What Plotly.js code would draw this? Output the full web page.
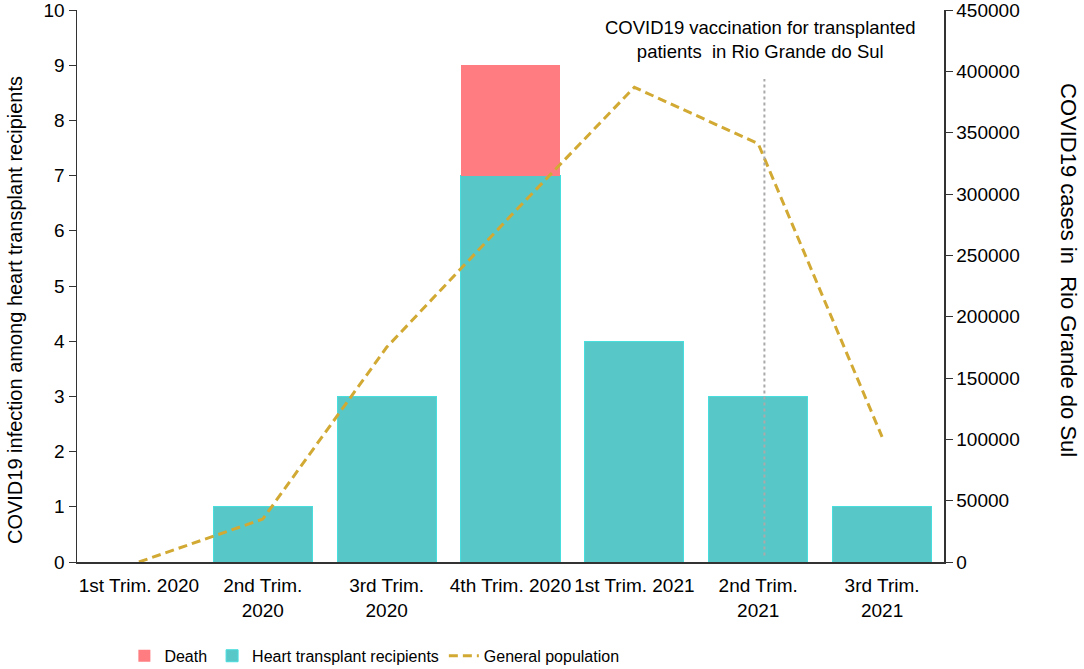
<!DOCTYPE html>
<html>
<head>
<meta charset="utf-8">
<script src="https://cdn.plot.ly/plotly-3.0.1.min.js"></script>
<style>
  body { margin: 0; background: #fff; }
  #gd { width: 1084px; height: 669px; }
</style>
</head>
<body>
<div id="gd"></div>
<script>
// quarters on the x axis
const quarters = ['1st Trim. 2020', '2nd Trim.<br>2020', '3rd Trim.<br>2020', '4th Trim. 2020',
                  '1st Trim. 2021', '2nd Trim.<br>2021', '3rd Trim.<br>2021'];
// heart transplant recipients with COVID19 (left axis)
const heartCases = [0, 1, 3, 7, 4, 3, 1];
const deaths = [0, 0, 0, 2, 0, 0, 0];
// COVID19 cases in the general population of Rio Grande do Sul (right axis)
const generalPop = [0, 35000, 175000, 282000, 387000, 341000, 102000];

const fontFam = '"Liberation Sans", Arial, sans-serif';

const data = [{
  x: quarters,
  y: heartCases,
  type: 'bar',
  name: 'Heart transplant recipients',
  legendrank: 2,
  marker: { color: '#58c7c8', line: { color: '#48dede', width: 1 } },
  hoverinfo: 'skip'
}, {
  x: quarters,
  y: deaths,
  type: 'bar',
  name: 'Death',
  legendrank: 1,
  marker: { color: '#ff7d80', line: { width: 0 } },
  hoverinfo: 'skip'
}, {
  x: quarters,
  y: generalPop,
  type: 'scatter',
  mode: 'lines',
  name: 'General population',
  legendrank: 3,
  yaxis: 'y2',
  line: { color: '#d1a933', width: 3, dash: '9px,5px' },
  hoverinfo: 'skip'
}];

const layout = {
  width: 1084,
  height: 669,
  margin: { l: 77, r: 140, t: 10, b: 107, autoexpand: false },
  paper_bgcolor: '#fff',
  plot_bgcolor: '#fff',
  font: { family: fontFam, size: 19, color: '#000' },
  barmode: 'stack',
  bargap: 0.2,
  showlegend: true,
  legend: {
    orientation: 'h',
    x: 0.343, xanchor: 'center',
    y: -0.170, yanchor: 'middle',
    font: { size: 16 },
    traceorder: 'normal'
  },
  xaxis: {
    type: 'category',
    range: [-0.5, 6.5],
    tickangle: 0,
    ticks: '',
    ticklabelstandoff: 6,
    showline: true,
    linecolor: '#333',
    linewidth: 1.5,
    showgrid: false,
    zeroline: false
  },
  yaxis: {
    range: [0, 10],
    dtick: 1,
    ticks: 'outside',
    ticklen: 7,
    tickcolor: '#333',
    ticklabeloverflow: 'allow',
    showline: true,
    linecolor: '#333',
    linewidth: 1.5,
    showgrid: false,
    zeroline: false
  },
  yaxis2: {
    overlaying: 'y',
    side: 'right',
    range: [0, 450000],
    dtick: 50000,
    tickformat: 'd',
    ticks: 'outside',
    ticklen: 7,
    tickcolor: '#333',
    ticklabeloverflow: 'allow',
    showline: true,
    linecolor: '#333',
    linewidth: 1.5,
    showgrid: false,
    zeroline: false
  },
  shapes: [{
    type: 'line',
    xref: 'x', yref: 'y',
    x0: 5.05, x1: 5.05, y0: 0.12, y1: 8.75,
    line: { color: '#aaaaaa', width: 2, dash: 'dot' },
    layer: 'above'
  }],
  annotations: [{
    xref: 'x', yref: 'paper',
    x: 5.016, y: 0.9457,
    xanchor: 'center', yanchor: 'middle',
    text: 'COVID19 vaccination for transplanted<br>patients  in Rio Grande do Sul',
    showarrow: false,
    align: 'center',
    font: { size: 18.5, color: '#000' }
  }, {
    // left axis title
    xref: 'paper', yref: 'paper',
    x: -0.0715, y: 0.4565,
    xanchor: 'center', yanchor: 'middle',
    text: 'COVID19 infection among heart transplant recipients',
    textangle: -90,
    showarrow: false,
    font: { size: 20, color: '#000' }
  }, {
    // right axis title
    xref: 'paper', yref: 'paper',
    x: 1.143, y: 0.529,
    xanchor: 'center', yanchor: 'middle',
    text: 'COVID19 cases in  Rio Grande do Sul',
    textangle: 90,
    showarrow: false,
    font: { size: 22, color: '#000' }
  }]
};

Plotly.newPlot('gd', data, layout, { displayModeBar: false, staticPlot: true });
</script>
</body>
</html>
